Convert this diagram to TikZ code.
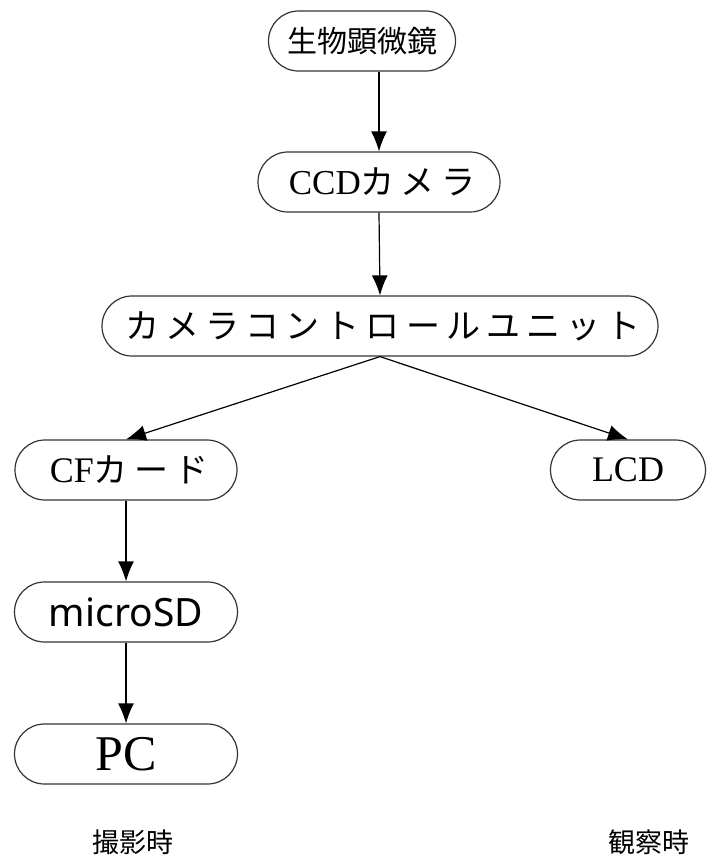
\documentclass[tikz,border=0pt]{standalone}
\usepackage{fontspec}
\setmainfont{Liberation Serif}
\newfontfamily\jpfont{Noto Sans CJK JP}
\newfontfamily\jpkana[LetterSpace=18]{Noto Sans CJK JP}
\newfontfamily\latinsans{Noto Sans}
\usetikzlibrary{arrows.meta}
\newcommand\fsz[1]{\fontsize{#1}{#1}\selectfont}
% spaced kana, trailing gap taken back
\newcommand\kana[1]{{\jpkana\fsz{17pt}#1\kern-3pt}}

\begin{document}
\begin{tikzpicture}[x=0.5pt,y=-0.5pt,line width=0.6pt,
  unit/.style={draw=black!80, rounded corners=15pt, minimum height=30pt, inner sep=0pt},
  flow/.style={-{Latex[length=10pt,width=8pt]}, line width=0.6pt}]
  \useasboundingbox (0,0) rectangle (708,858);

  % signal chain
  \node[unit, minimum width=93.5pt] (scope) at (362,41) {\jpfont\fsz{15pt}生物顕微鏡};
  \node[unit, minimum width=121pt] (ccd) at (379,182)
    {\fsz{17.5pt}CCD\kana{カメラ}};
  \node[unit, minimum width=278pt] (ccu) at (380,326)
    {\kana{カメラコントロールユニット}};

  % recording side
  \node[unit, minimum width=111pt] (cf) at (126,470)
    {\fsz{18pt}CF\kana{カード}};
  \node[unit, minimum width=111.5pt] (micro) at (126,612) {\latinsans\fsz{19.5pt}microSD};
  \node[unit, minimum width=111.5pt] (pc) at (126,754) {\fsz{25pt}PC};

  % viewing side
  \node[unit, minimum width=77.5pt] (lcd) at (628,470) {\fsz{18pt}LCD};

  \node[font=\jpfont\fsz{13.5pt}] (shoot) at (133,842) {撮影時};
  \node[font=\jpfont\fsz{13.5pt}] (watch) at (649,842) {観察時};

  \draw[flow] (scope.south -| ccd) -- (ccd.north);
  \draw[flow] (ccd.south) -- (ccu.north);
  \draw[flow] (ccu.south) -- (cf.north);
  \draw[flow] (ccu.south) -- (lcd.north);
  \draw[flow] (cf.south) -- (micro.north);
  \draw[flow] (micro.south) -- (pc.north);
\end{tikzpicture}
\end{document}
